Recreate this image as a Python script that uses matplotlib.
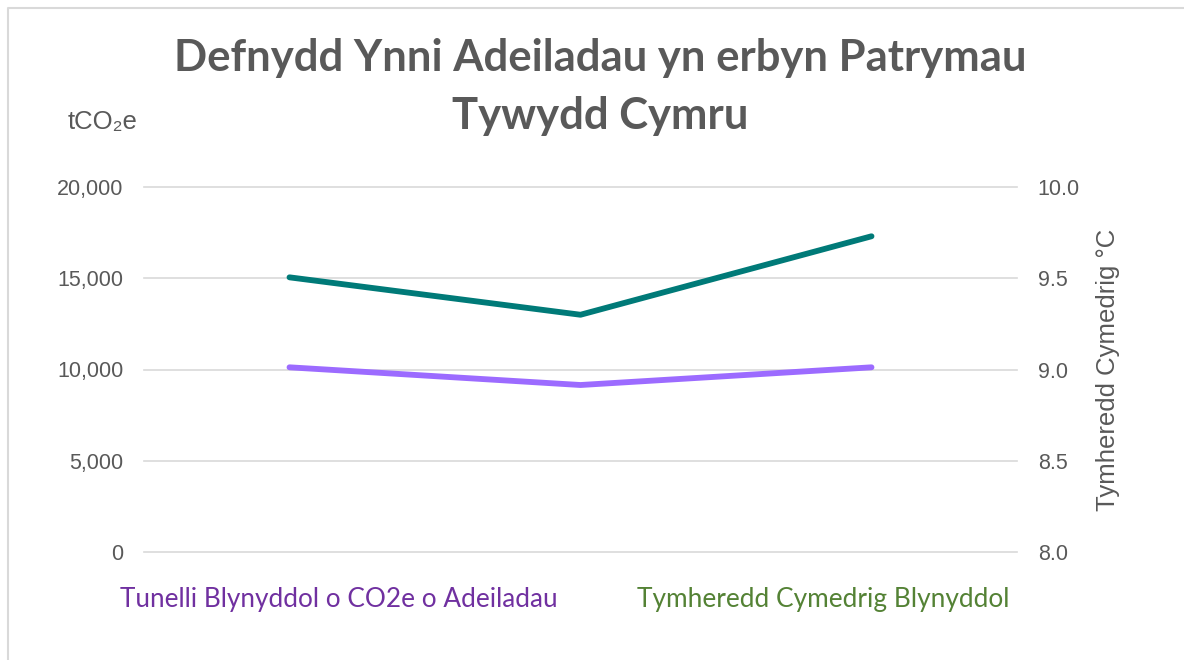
import matplotlib.pyplot as plt
from matplotlib.lines import Line2D
from matplotlib.ticker import FuncFormatter, MultipleLocator

# data (x labels are not shown in the original)
years = ["Blwyddyn 1", "Blwyddyn 2", "Blwyddyn 3"]
co2_tonnes = [10120, 9150, 10120]
temp_mean = [9.505, 9.30, 9.73]

title = "Defnydd Ynni Adeiladau yn erbyn Patrymau\nTywydd Cymru"
co2_label = "Tunelli Blynyddol o CO2e o Adeiladau"
temp_label = "Tymheredd Cymedrig Blynyddol"

grey = "#595959"
plt.rcParams['font.family'] = ['Liberation Sans', 'DejaVu Sans']

fig = plt.figure(figsize=(11.84, 6.6), dpi=100)
ax = fig.add_axes([144 / 1184, 1 - 552 / 660, (1017 - 144) / 1184, (552 - 187) / 660])
ax2 = ax.twinx()

x = range(len(years))
ax.plot(x, co2_tonnes, color="#9C6BFF", lw=4.2, solid_capstyle="round", zorder=3)
ax2.plot(x, temp_mean, color="#007A78", lw=4.2, solid_capstyle="round", zorder=3)

ax.set_xlim(-0.5, len(years) - 0.5)
ax.set_ylim(0, 20000)
ax2.set_ylim(8.0, 10.0)
ax.yaxis.set_major_locator(MultipleLocator(5000))
ax2.yaxis.set_major_locator(MultipleLocator(0.5))
ax.yaxis.set_major_formatter(FuncFormatter(lambda v, p: f"{v:,.0f}"))
ax2.yaxis.set_major_formatter(FuncFormatter(lambda v, p: f"{v:.1f}"))

ax.set_xticks(list(x))
ax.set_xticklabels([])
ax.tick_params(axis="x", length=0)
ax.tick_params(axis="y", length=0, pad=15, labelsize=15.5, labelcolor=grey)
ax2.tick_params(axis="y", length=0, pad=15, labelsize=15.5, labelcolor=grey)
ax.grid(axis="y", color="#D9D9D9", lw=1.2)
ax.set_axisbelow(True)
for gl in ax.get_ygridlines():
    gl.set_clip_on(False)
for a in (ax, ax2):
    for s in a.spines.values():
        s.set_visible(False)

# titles and labels
fig.text(0.507, 1 - 87 / 660, title, ha="center", va="center", fontsize=31.4,
         fontweight="bold", color=grey, family=['Lato', 'DejaVu Sans'], linespacing=1.55)
fig.text(103 / 1184, 1 - 122 / 660, "tCO₂e", ha="center", va="center",
         fontsize=18.5, color=grey)
fig.text(1108 / 1184, 1 - 370 / 660, "Tymheredd Cymedrig °C", ha="center", va="center",
         rotation=90, fontsize=18.5, color=grey)
fig.text(120 / 1184, 1 - 600 / 660, co2_label, ha="left", va="center", fontsize=18.8,
         color="#7030A0", family=['Lato', 'DejaVu Sans'])
fig.text(637 / 1184, 1 - 600 / 660, temp_label, ha="left", va="center", fontsize=18.9,
         color="#548235", family=['Lato', 'DejaVu Sans'])

# chart-area border (top and left edges visible)
fig.add_artist(Line2D([8 / 1184, 8 / 1184, 1], [0, 1 - 8 / 660, 1 - 8 / 660],
                      transform=fig.transFigure, color="#D9D9D9", lw=1.5))

fig.savefig("out.png", dpi=100)
